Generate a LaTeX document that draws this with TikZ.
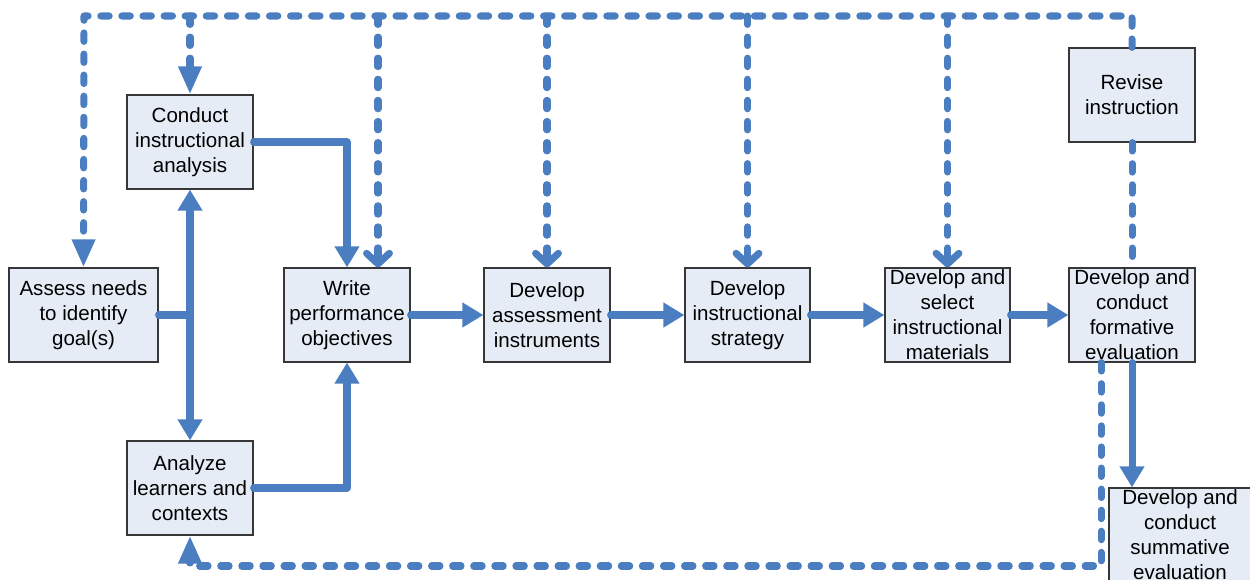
\documentclass[tikz,border=0pt]{standalone}
\usepackage{fontspec}
\setmainfont{Liberation Sans}
\usetikzlibrary{arrows.meta,calc}
\definecolor{lblue}{RGB}{74,126,192}
\definecolor{boxfill}{RGB}{230,236,246}
\definecolor{boxdraw}{RGB}{55,55,55}
\begin{document}
\begin{tikzpicture}[x=0.02cm,y=-0.02cm,
  box/.style={draw=boxdraw, line width=0.7pt, fill=boxfill, minimum width=2.52cm,
    minimum height=1.88cm, inner sep=0pt, align=center,
    font=\fontsize{11.7}{14.2}\selectfont},
  flow/.style={draw=lblue, line width=4pt, line cap=round, line join=round,
    -{Triangle[length=12pt,width=13.5pt]}},
  flowline/.style={draw=lblue, line width=4pt, line cap=round},
  dashl/.style={draw=lblue, line width=4pt, line cap=round, line join=round,
    dash pattern=on 4.8pt off 7.2pt},
  dtri/.style={-{Triangle[length=16pt,width=12.5pt]}},
  chev/.style={-{Straight Barb[length=6pt,width=13pt,line cap=round,line join=round]}}]
\useasboundingbox (0,0) rectangle (1250,580);
\clip (0,0) rectangle (1250,580);

% boxes
\node[box, minimum width=2.98cm] (assess) at (83.5,315) {Assess needs\\to identify\\goal(s)};
\node[box] (conduct) at (190,142) {Conduct\\instructional\\analysis};
\node[box] (analyze) at (190,488) {Analyze\\learners and\\contexts};
\node[box] (write) at (347,315) {Write\\performance\\objectives};
\node[box] (assessinst) at (547,315) {Develop\\assessment\\instruments};
\node[box, minimum width=2.5cm] (strategy) at (747.5,315) {Develop\\instructional\\strategy};
\node[box, minimum width=2.5cm] (materials) at (947.5,315) {Develop and\\select\\instructional\\materials};
\node[box] (formative) at (1132,315) {Develop and\\conduct\\formative\\evaluation};
\node[box] (revise) at (1132,95) {Revise\\instruction};
\node[box, minimum width=2.84cm] (summative) at (1180,535) {Develop and\\conduct\\summative\\evaluation};

% solid connectors
\draw[flowline] (assess.east) -- (assess.east -| conduct.south);
\draw[flow, {Triangle[length=12pt,width=13.5pt]}-{Triangle[length=12pt,width=13.5pt]}] (conduct.south) -- (analyze.north);
\draw[flow] (conduct.east) -| (write.north);
\draw[flow] (analyze.east) -| (write.south);
\draw[flow] (write.east) -- (assessinst.west);
\draw[flow] (assessinst.east) -- (strategy.west);
\draw[flow] (strategy.east) -- (materials.west);
\draw[flow] (materials.east) -- (formative.west);
\draw[flow] (formative.south) -- (formative.south |- summative.north);

% dashed feedback
\coordinate (top) at (84,16);
\coordinate (wtop) at ($(write.north)+(31,0)$);
\coordinate (fb) at ($(formative.south)+(-31,0)$);
\coordinate (bot) at (600,566);
\draw[dashl, dtri] (revise.north) |- (top) -- (assess.north);
\draw[dashl, dtri] (conduct.north |- top) -- (conduct.north);
\draw[dashl, chev] (wtop |- top) -- (wtop);
\draw[dashl, chev] (assessinst.north |- top) -- (assessinst.north);
\draw[dashl, chev] (strategy.north |- top) -- (strategy.north);
\draw[dashl, chev] (materials.north |- top) -- (materials.north);
\draw[dashl] (revise.south) -- (formative.north);
\draw[dashl, dtri] (fb) |- (bot) -| (analyze.south);
\end{tikzpicture}
\end{document}
